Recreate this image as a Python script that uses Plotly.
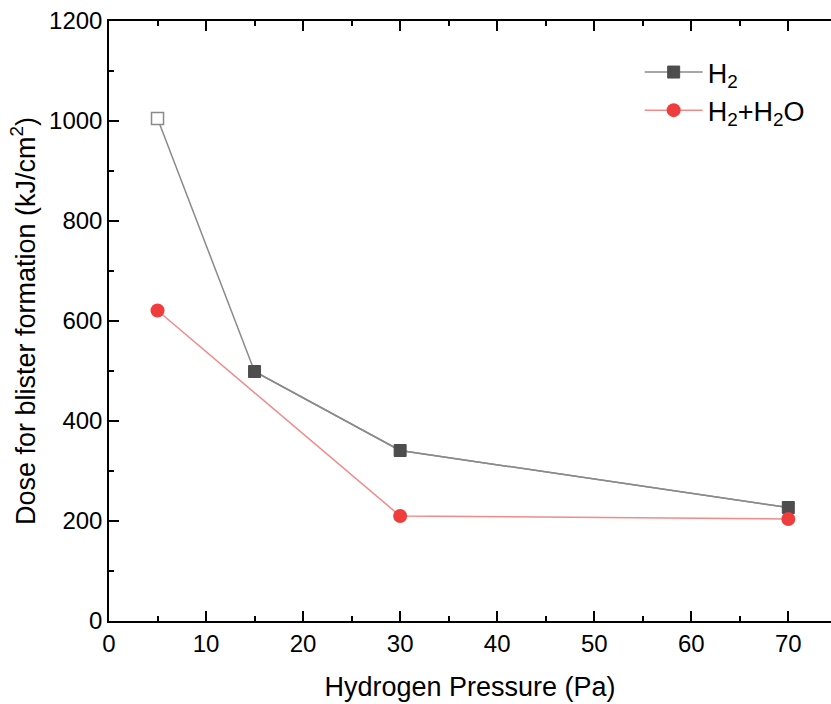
import plotly.graph_objects as go

pressure_h2 = [5, 15, 30, 70]
dose_h2 = [1005, 499, 341, 227]
pressure_h2o = [5, 30, 70]
dose_h2o = [621, 210, 204]

GRAY_LINE = "#8a8a8a"
GRAY_MARK = "#4d4d4d"
RED_LINE = "#f28a8a"
RED_MARK = "#ef3d3d"
FONT = "Liberation Sans, Arial, sans-serif"

fig = go.Figure()
# H2 connecting line (all points)
fig.add_trace(go.Scatter(x=pressure_h2, y=dose_h2, mode="lines",
                         line=dict(color=GRAY_LINE, width=1.5),
                         showlegend=False, hoverinfo="skip"))
# H2 filled markers
fig.add_trace(go.Scatter(x=pressure_h2[1:], y=dose_h2[1:], mode="lines+markers",
                         name="H<sub>2</sub>",
                         line=dict(color=GRAY_LINE, width=1.5),
                         marker=dict(symbol="square", size=12, color=GRAY_MARK,
                                     line=dict(color=GRAY_MARK, width=1))))
# H2 hollow first point
fig.add_trace(go.Scatter(x=pressure_h2[:1], y=dose_h2[:1], mode="markers",
                         showlegend=False,
                         marker=dict(symbol="square", size=12, color="white",
                                     line=dict(color=GRAY_LINE, width=1.5))))
# H2 + H2O
fig.add_trace(go.Scatter(x=pressure_h2o, y=dose_h2o, mode="lines+markers",
                         name="H<sub>2</sub>+H<sub>2</sub>O",
                         line=dict(color=RED_LINE, width=1.5),
                         marker=dict(symbol="circle", size=14, color=RED_MARK,
                                     line=dict(color=RED_MARK, width=0))))

axis_common = dict(showline=True, linecolor="black", linewidth=1.5,
                   ticks="inside", ticklen=10, tickwidth=1.5, tickcolor="black",
                   showgrid=False, zeroline=False,
                   tickfont=dict(family=FONT, size=24, color="black"))

fig.update_xaxes(range=[0, 74.4], tickmode="array", tickvals=[0, 10, 20, 30, 40, 50, 60, 70],
                 mirror="allticks",
                 minor=dict(ticks="inside", ticklen=5, tickwidth=1.5, tickcolor="black", dtick=5, tick0=0),
                 title=dict(text="Hydrogen Pressure (Pa)", font=dict(family=FONT, size=27, color="black"),
                            standoff=22),
                 **axis_common)
fig.update_yaxes(range=[0, 1200], dtick=200, tick0=0, mirror=False,
                 minor=dict(ticks="inside", ticklen=5, tickwidth=1.5, tickcolor="black", dtick=100, tick0=0),
                 title=dict(text="Dose for blister formation (kJ/cm<sup>2</sup>)",
                            font=dict(family=FONT, size=27, color="black"), standoff=6),
                 **axis_common)

fig.update_layout(width=831, height=704,
                  margin=dict(l=109, r=0, t=21, b=83),
                  plot_bgcolor="white", paper_bgcolor="white",
                  font=dict(family=FONT, color="black"),
                  legend=dict(x=0.735, y=0.955, xanchor="left", yanchor="top",
                              bgcolor="rgba(0,0,0,0)", borderwidth=0,
                              font=dict(family=FONT, size=27, color="black"),
                              itemwidth=58, tracegroupgap=0))

fig.write_html("out.html", config={"displayModeBar": False},
               post_script="document.body.style.margin='0';document.body.style.overflow='hidden';")
